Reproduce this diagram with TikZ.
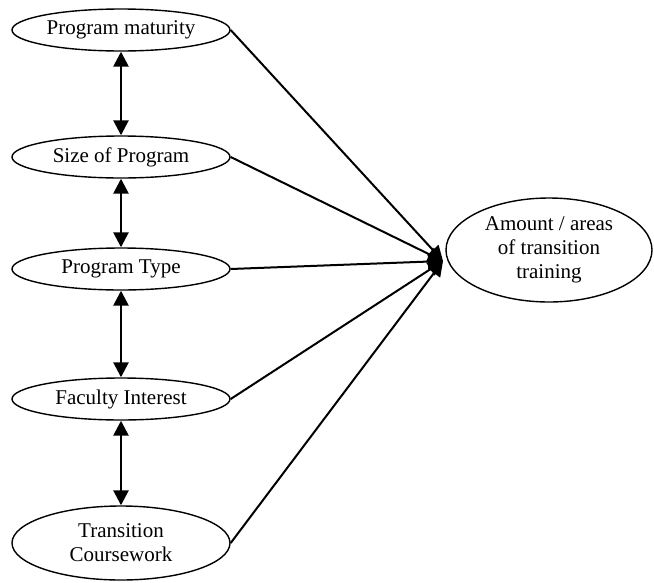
\documentclass[tikz,border=0pt]{standalone}
\usepackage{fontspec}
\setmainfont{Liberation Serif}
\usetikzlibrary{shapes.geometric, arrows.meta}

\begin{document}
\begin{tikzpicture}[x=1pt, y=-1pt,
    factor/.style={draw, ellipse, line width=1.4pt, inner sep=0pt, minimum width=218pt,
        minimum height=42pt, align=center, font=\fontsize{21}{24}\selectfont},
    tip/.style={line width=2pt, -{Triangle[length=15pt, width=15pt]}},
    twotip/.style={line width=2.6pt, {Triangle[length=15pt, width=15pt]}-{Triangle[length=15pt, width=15pt]}}]
                \useasboundingbox (0,0) rectangle (654,582);
                \node[factor] (mat) at (121,30) {Program maturity};
                \node[factor] (size) at (121,157) {Size of Program};
                \node[factor] (type) at (121,269) {Program Type};
                \node[factor] (fac) at (121,399) {Faculty Interest};
                \node[factor, minimum height=74pt] (tc) at (121,543) {Transition\\Coursework};
                \node[factor, minimum width=206pt, minimum height=104pt] (amt) at (549,250)
                    {Amount / areas\\of transition\\training};
                \coordinate (hub) at (443,261);
                \foreach \a/\b in {mat/size, size/type, type/fac, fac/tc}
                    \draw[twotip] (\a) -- (\b);
                \foreach \a in {mat, size, type, fac, tc}
                    \draw[tip] (\a.east) -- (hub);
            \end{tikzpicture}
\end{document}
